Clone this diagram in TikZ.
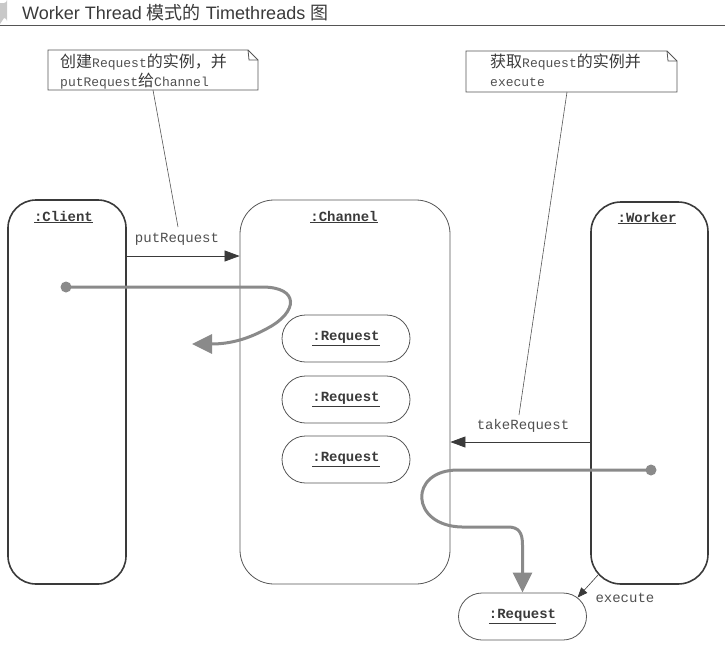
\documentclass[tikz,border=0pt]{standalone}
\usepackage{fontspec}
\setmainfont{Liberation Sans}
\setmonofont{Liberation Mono}
\newfontfamily\cjk{Noto Sans CJK SC}
\usetikzlibrary{arrows.meta,shapes.misc,calc}
\definecolor{lineC}{HTML}{3A3A3A}
\definecolor{thinC}{HTML}{555555}
\definecolor{flowC}{HTML}{8A8A8A}
\definecolor{txtC}{HTML}{505050}
\definecolor{markC}{HTML}{C8C8C8}
\tikzset{
  activebox/.style={draw=lineC, line width=1.6pt, rectangle, rounded corners=28pt},
  passivebox/.style={draw=thinC, line width=0.8pt, rectangle, rounded corners=34pt},
  reqbox/.style={draw=thinC, line width=0.8pt, rounded rectangle, minimum width=128pt, minimum height=47pt, inner sep=0pt},
  objlabel/.style={font=\ttfamily\bfseries\fontsize{14}{16}\selectfont, text=lineC},
  msglabel/.style={font=\ttfamily\fontsize{14}{16}\selectfont, text=txtC},
  msg/.style={draw=lineC, line width=0.7pt, -{Triangle[length=15pt,width=11pt]}},
  flow/.style={draw=flowC, line width=3pt, -{Triangle[length=20pt,width=19pt]}},
  flowdot/.style={circle, fill=flowC, minimum size=11pt, inner sep=0pt},
  notebox/.style={draw=thinC, line width=0.8pt},
  notetext/.style={align=left, anchor=west, inner sep=0pt, text=lineC},
  noteline/.style={draw=thinC, line width=0.6pt},
}
\newcommand{\ul}[1]{\underline{#1}}
\newcommand{\cj}[1]{{\cjk\fontsize{16}{18}\selectfont #1}}
\newcommand{\mt}[1]{{\ttfamily\fontsize{13}{16}\selectfont\color{txtC}#1}}
\begin{document}
\begin{tikzpicture}[x=1pt,y=-1pt]
\useasboundingbox (0,0) rectangle (725,659);
% title
\fill[markC] (0,3) -- (4,3) arc[start angle=90,end angle=0,radius=3] -- (7,21) arc[start angle=0,end angle=-90,radius=3] -- (0,24) -- cycle;
\node[anchor=west, inner sep=0pt, font=\fontsize{18}{20}\selectfont, text=lineC] (title) at (22,13) {Worker Thread {\cjk 模式的} Timethreads {\cjk 图}};
\draw[thinC, line width=0.8pt] (0,25.5) -- (725,25.5);

% lifeline boxes
\node[activebox, minimum width=118pt, minimum height=384pt] (client) at (67,392) {};
\node[passivebox, minimum width=210pt, minimum height=384pt] (channel) at (345,392) {};
\node[activebox, minimum width=117pt, minimum height=382pt, rounded corners=30pt] (worker) at (649.5,393) {};
\node[objlabel] (clientL) at (63.5,217) {\ul{:Client}};
\node[objlabel] (channelL) at (344,217) {\ul{:Channel}};
\node[objlabel] (workerL) at (647,218) {\ul{:Worker}};

% requests
\node[reqbox, objlabel] (req1) at (346,338.5) {\ul{:Request}};
\node[reqbox, objlabel] (req2) at (346,399.5) {\ul{:Request}};
\node[reqbox, objlabel] (req3) at (346,459.5) {\ul{:Request}};
\node[reqbox, objlabel] (req5) at (522.5,616.5) {\ul{:Request}};

% messages
\draw[msg] (client.east |- 0,256) -- (channel.west |- 0,256);
\node[msglabel, anchor=south] (putL) at (177,249) {putRequest};
\draw[msg] (worker.west |- 0,442) -- (channel.east |- 0,442);
\node[msglabel, anchor=south] (takeL) at (523,436) {takeRequest};
\coordinate (wexec) at (598,575);
\draw[draw=lineC, line width=0.6pt, -{Triangle[length=10pt,width=8pt]}] (wexec) -- (req5.19);
\node[msglabel, anchor=west] (execL) at (592,598) {execute};

% flows
\node[flowdot] (cdot) at (66,287) {};
\coordinate (cend) at (192,344);
\draw[flow] (cdot.center) -- (262,287) .. controls (300,287) and (298,312) .. (268,328) .. controls (250,338) and (232,344) .. (cend);
\node[flowdot] (wdot) at (651,470) {};
\draw[flow] (wdot.center) -- (458,470) .. controls (408,470) and (410,526) .. (462,527) -- (508,527) .. controls (519,527) and (522.5,533) .. (522.5,545) -- (req5.north);

% notes
\node[notetext] (note1a) at (60,62) {\cj{创建}\mt{Request}\cj{的实例，并}};
\node[notetext] (note1b) at (60,81) {\mt{putRequest}\cj{给}\mt{Channel}};
\draw[notebox] (48,50) -- (248,50) -- (258,60) -- (258,90) -- (48,90) -- cycle;
\draw[notebox] (248,50) -- (249,60) -- (258,60);
\coordinate (n1a) at (153,90);
\coordinate (n1b) at (178,227);
\draw[noteline] (n1a) -- (n1b);

\node[notetext] (note2a) at (490,62) {\cj{获取}\mt{Request}\cj{的实例并}};
\node[notetext] (note2b) at (490,82) {\mt{execute}};
\draw[notebox] (466,51) -- (667,51) -- (677,61) -- (677,92) -- (466,92) -- cycle;
\draw[notebox] (667,51) -- (668,61) -- (677,61);
\coordinate (n2a) at (567,92);
\coordinate (n2b) at (519,415);
\draw[noteline] (n2a) -- (n2b);
\end{tikzpicture}
\end{document}
